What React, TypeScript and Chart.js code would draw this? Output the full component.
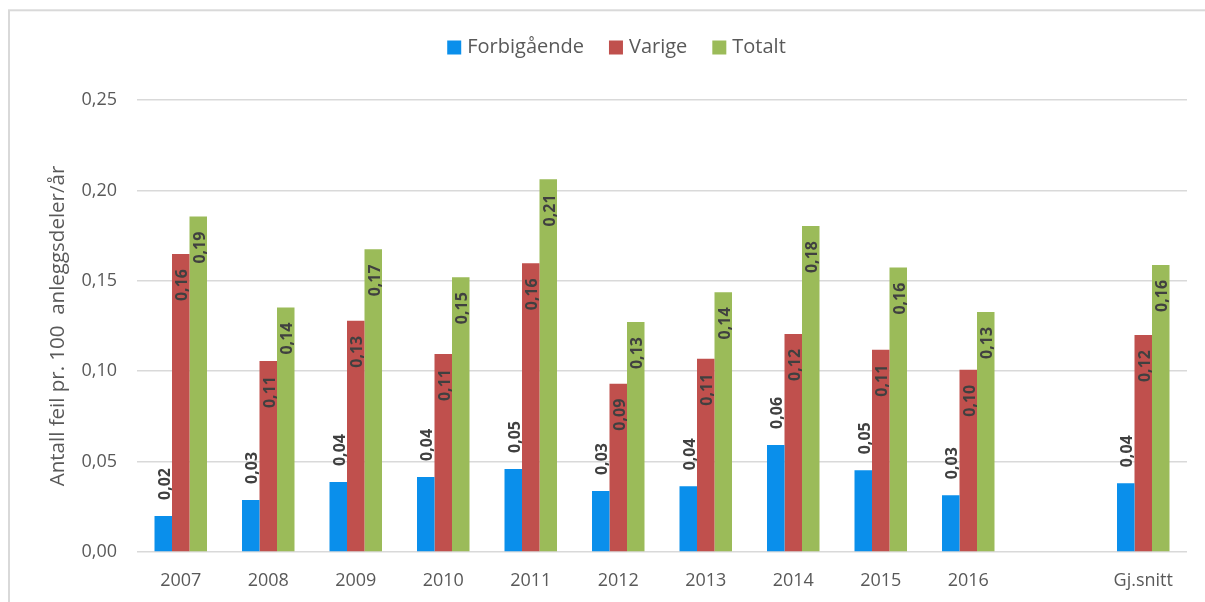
import React, { useEffect, useRef } from "react";
import { Chart, registerables } from "chart.js";

Chart.register(...registerables);

const categories = ["2007", "2008", "2009", "2010", "2011", "2012", "2013", "2014", "2015", "2016", "", "Gj.snitt"];
const forbigaende = [0.0199, 0.0288, 0.0387, 0.0415, 0.0459, 0.0337, 0.0363, 0.0592, 0.0452, 0.0314, null, 0.038];
const varige = [0.1648, 0.1056, 0.1279, 0.1095, 0.1597, 0.0931, 0.1069, 0.1206, 0.1119, 0.1008, null, 0.12];
const totalt = [0.1855, 0.1352, 0.1674, 0.152, 0.2061, 0.1272, 0.1436, 0.1803, 0.1573, 0.1328, null, 0.1588];
const seriesNames = ["Forbigående", "Varige", "Totalt"];
const yTicks = [0, 0.05, 0.1, 0.15, 0.2, 0.25];
const yTitle = "Antall feil pr. 100  anleggsdeler/år";

const COLORS = ["#0A8FEB", "#C0504D", "#9BBB59"];
const FONT = "'Open Sans', 'Noto Sans', sans-serif";
const fmt = (v: number) => v.toFixed(2).replace(".", ",");

const borderPlugin = {
  id: "frameBorder",
  beforeDraw(chart: any) {
    const ctx = chart.ctx;
    ctx.save();
    ctx.fillStyle = "#ffffff";
    ctx.fillRect(0, 0, chart.width, chart.height);
    ctx.strokeStyle = "#D9D9D9";
    ctx.lineWidth = 2;
    ctx.strokeRect(9, 10.3, 1400, 1000);
    ctx.restore();
  },
};

const legendPlugin = {
  id: "manualLegend",
  afterDraw(chart: any) {
    const ctx = chart.ctx;
    ctx.save();
    ctx.font = `20px ${FONT}`;
    const box = 14;
    const gapText = 6;
    const gapItem = 25;
    const widths = chart.data.datasets.map((ds: any) => ctx.measureText(ds.label).width);
    const total = widths.reduce((a: number, w: number) => a + box + gapText + w, 0) + gapItem * (widths.length - 1);
    let x = 616.5 - total / 2;
    const cy = 47.5;
    chart.data.datasets.forEach((ds: any, i: number) => {
      ctx.fillStyle = ds.backgroundColor;
      ctx.fillRect(x, cy - box / 2, box, box);
      ctx.fillStyle = "#595959";
      ctx.textAlign = "left";
      ctx.textBaseline = "middle";
      ctx.fillText(ds.label, x + box + gapText, cy);
      x += box + gapText + widths[i] + gapItem;
    });
    ctx.restore();
  },
};

const labelPlugin = {
  id: "barLabels",
  afterDatasetsDraw(chart: any) {
    const ctx = chart.ctx;
    ctx.save();
    ctx.font = `bold 16px ${FONT}`;
    ctx.fillStyle = "#404040";
    ctx.textBaseline = "middle";
    chart.data.datasets.forEach((ds: any, di: number) => {
      const meta = chart.getDatasetMeta(di);
      meta.data.forEach((bar: any, i: number) => {
        const v = ds.data[i];
        if (v === null || v === undefined) return;
        const text = fmt(v);
        ctx.save();
        if (di === 0) {
          ctx.translate(bar.x + 2, bar.y - 16);
          ctx.rotate(-Math.PI / 2);
          ctx.textAlign = "left";
        } else {
          ctx.translate(bar.x + 2, bar.y + 15);
          ctx.rotate(-Math.PI / 2);
          ctx.textAlign = "right";
        }
        ctx.fillText(text, 0, 0);
        ctx.restore();
      });
    });
    ctx.restore();
  },
};

export default function App() {
  const ref = useRef<HTMLCanvasElement | null>(null);
  useEffect(() => {
    if (!ref.current) return;
    const data = [forbigaende, varige, totalt];
    const chart = new Chart(ref.current, {
      type: "bar",
      data: {
        labels: categories,
        datasets: seriesNames.map((name, k) => ({
          label: name,
          data: data[k] as any,
          backgroundColor: COLORS[k],
          borderWidth: 0,
          categoryPercentage: 0.6,
          barPercentage: 1.0,
        })),
      },
      options: {
        responsive: false,
        animation: false,
        layout: { padding: { left: 0, right: 18, top: 100, bottom: 0 } },
        plugins: {
          tooltip: { enabled: false },
          legend: { display: false },
        },
        scales: {
          x: {
            grid: { display: false, drawTicks: false },
            border: { display: false },
            ticks: { font: { family: FONT, size: 18 }, color: "#595959", padding: 18, maxRotation: 0, autoSkip: false },
            afterFit(scale: any) {
              scale.height = 50;
            },
          },
          y: {
            min: 0,
            max: 0.25,
            afterBuildTicks(scale: any) {
              scale.ticks = yTicks.map((v) => ({ value: v }));
            },
            grid: { color: "#D9D9D9", lineWidth: 1.5, drawTicks: false },
            border: { display: false },
            ticks: {
              font: { family: FONT, size: 18 },
              color: "#595959",
              padding: 20,
              callback: (v: any) => fmt(Number(v)),
            },
            title: {
              display: true,
              text: yTitle,
              font: { family: FONT, size: 20.5 },
              color: "#595959",
              padding: { top: 46, bottom: 0 },
            },
            afterFit(scale: any) {
              scale.width = 137;
            },
          },
        },
      },
      plugins: [borderPlugin, labelPlugin, legendPlugin],
    } as any);
    return () => chart.destroy();
  }, []);
  return (
    <div style={{ position: "fixed", left: 0, top: 0, width: 1205, height: 602, background: "#fff" }}>
      <canvas ref={ref} width={1205} height={602} style={{ display: "block" }} />
    </div>
  );
}
